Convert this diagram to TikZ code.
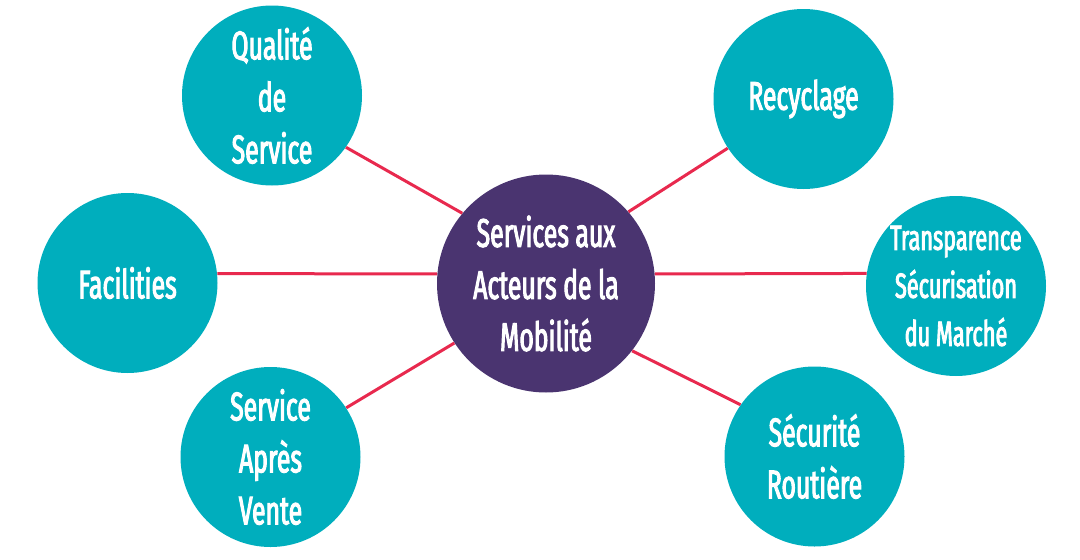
\documentclass[tikz,border=0pt]{standalone}
\usepackage{fontspec}
\setmainfont{Fira Sans}[FakeStretch=0.62,FakeBold=2.5]
\usepackage{tikz}

\definecolor{hubteal}{HTML}{00AEBD}
\definecolor{hubpurple}{HTML}{4A3470}
\definecolor{linkred}{HTML}{E8294E}

\begin{document}
\begin{tikzpicture}[x=1pt, y=-1pt, semithick]
        \tikzstyle{topic}=[circle,fill=hubteal,text=white,minimum size=180pt,inner sep=0pt,align=center,font=\fontsize{40}{52}\selectfont]
        \tikzstyle{hub}=[topic,fill=hubpurple,minimum size=218pt]
        \tikzstyle{link}=[draw=linkred,line width=3pt]

        \useasboundingbox (0,0) rectangle (1080,560);

        \node[hub] (M) at (546,283.5) {Services aux\\Acteurs de la\\Mobilité};
        \node[topic] (Q) at (272,95.5) {Qualité\\de\\Service};
        \node[topic] (F) at (127.5,283) {Facilities};
        \node[topic] (S) at (270.5,457) {Service\\Après\\Vente};
        \node[topic] (R) at (803.5,99) {Recyclage};
        \node[topic,font=\fontsize{35}{48}\selectfont] (T) at (956,286) {Transparence\\Sécurisation\\du Marché};
        \node[topic] (P) at (814.5,456.5) {Sécurité\\Routière};

        \path (M.140) edge[link] (Q.-35)
              (M.175) edge[link] (F.6)
              (M.213) edge[link] (S.33)
              (M.41) edge[link] (R.213)
              (M.5) edge[link] (T.172)
              (M.-38) edge[link] (P.145);
    \end{tikzpicture}
\end{document}
